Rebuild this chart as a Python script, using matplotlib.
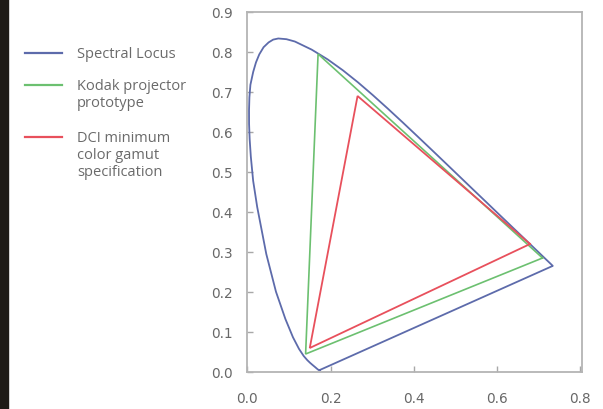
import matplotlib
matplotlib.use("Agg")
import matplotlib.pyplot as plt
from matplotlib.patches import Rectangle
from matplotlib.lines import Line2D
from matplotlib.ticker import FormatStrFormatter

# CIE 1931 spectral locus (x, y), 380 nm -> 700 nm, closed by the purple line
# (extra readings around 495-525 nm where the curve bends sharply)
locus_x = [0.1741, 0.1740, 0.1738, 0.1736, 0.1733, 0.1730, 0.1726, 0.1721,
           0.1714, 0.1703, 0.1689, 0.1669, 0.1644, 0.1611, 0.1566, 0.1510,
           0.1440, 0.1355, 0.1241, 0.1096, 0.0913, 0.0687, 0.0454, 0.0235,
           0.0138, 0.0082, 0.0054, 0.0040, 0.0039, 0.0048, 0.0072, 0.0139,
           0.0206, 0.0285, 0.0389, 0.0510, 0.0620, 0.0743, 0.0940, 0.1142,
           0.1547, 0.1929,
           0.2296, 0.2658, 0.3016, 0.3373, 0.3731, 0.4087, 0.4441, 0.4788,
           0.5125, 0.5448, 0.5752, 0.6029, 0.6270, 0.6482, 0.6658, 0.6801,
           0.6915, 0.7006, 0.7079, 0.7140, 0.7190, 0.7230, 0.7260, 0.7300,
           0.7334, 0.7347, 0.1741]
locus_y = [0.0050, 0.0050, 0.0049, 0.0049, 0.0048, 0.0048, 0.0048, 0.0048,
           0.0051, 0.0058, 0.0069, 0.0086, 0.0109, 0.0138, 0.0177, 0.0227,
           0.0297, 0.0399, 0.0578, 0.0868, 0.1327, 0.2007, 0.2950, 0.4127,
           0.4780, 0.5384, 0.5820, 0.6200, 0.6548, 0.6870, 0.7180, 0.7502,
           0.7740, 0.7940, 0.8120, 0.8240, 0.8310, 0.8338, 0.8320, 0.8262,
           0.8059, 0.7816,
           0.7543, 0.7243, 0.6923, 0.6589, 0.6245, 0.5896, 0.5547, 0.5202,
           0.4866, 0.4544, 0.4242, 0.3965, 0.3725, 0.3514, 0.3340, 0.3197,
           0.3083, 0.2993, 0.2920, 0.2859, 0.2809, 0.2770, 0.2740, 0.2700,
           0.2666, 0.2653, 0.0050]

# Kodak projector prototype gamut (R, G, B, back to R)
kodak_x = [0.710, 0.170, 0.140, 0.710]
kodak_y = [0.285, 0.795, 0.045, 0.285]

# DCI minimum color gamut (R, G, B, back to R)
dci_x = [0.680, 0.265, 0.150, 0.680]
dci_y = [0.320, 0.690, 0.060, 0.320]

labels = ["Spectral Locus", "Kodak projector\nprototype",
          "DCI minimum\ncolor gamut\nspecification"]
colors = ["#5d6bab", "#6cc070", "#e8505c"]

W, H = 603, 410
fig = plt.figure(figsize=(W / 100, H / 100), dpi=100)
fig.patch.set_facecolor("white")
ax = fig.add_axes([247 / W, 1 - 373 / H, (582 - 247) / W, (373 - 13) / H])

ax.plot(locus_x, locus_y, color=colors[0], lw=1.3, solid_joinstyle="round")
ax.plot(kodak_x, kodak_y, color=colors[1], lw=1.2, solid_joinstyle="miter")
ax.plot(dci_x, dci_y, color=colors[2], lw=1.3, solid_joinstyle="miter")

ax.set_xlim(-0.001, 0.805)
ax.set_ylim(0.0, 0.9)
ax.set_xticks([0.0, 0.2, 0.4, 0.6, 0.8])
ax.set_yticks([i / 10 for i in range(10)])
ax.xaxis.set_major_formatter(FormatStrFormatter("%.1f"))
ax.yaxis.set_major_formatter(FormatStrFormatter("%.1f"))
for s in ax.spines.values():
    s.set_color("#b4b4b4")
    s.set_linewidth(1.3)
ax.tick_params(colors="#a8a8a8", labelcolor="#686868", labelsize=9.8,
               length=4, width=1.0, direction="in")
ax.tick_params(axis="y", pad=10)
ax.tick_params(axis="x", pad=14)

# legend drawn by hand so the handle sits on the first text line
leg_y = [54, 86, 138]
for lab, c, y in zip(labels, colors, leg_y):
    fy = 1 - y / H
    fig.add_artist(Line2D([25 / W, 62 / W], [fy, fy], color=c, lw=1.6))
    fig.text(77 / W, fy + 7 / H, lab, fontsize=10.5, color="#6a6a6a",
             family="Open Sans", va="top", ha="left", linespacing=1.2)

# dark strip at the left edge of the screenshot
fig.add_artist(Rectangle((0, 0), 8 / W, 1, transform=fig.transFigure,
                         color="#1f1b17", zorder=10))

fig.savefig("out.png", dpi=100)
